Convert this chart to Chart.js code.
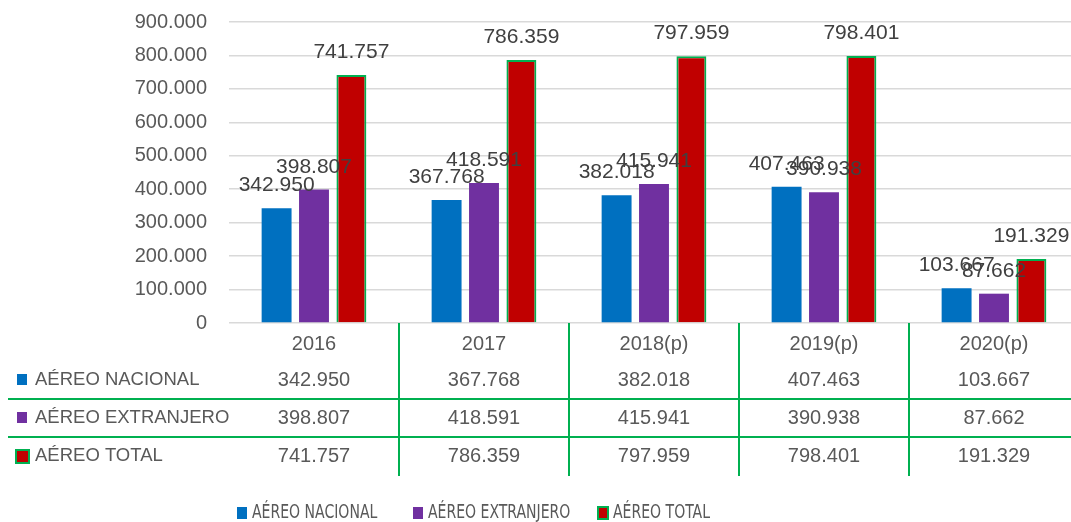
<!DOCTYPE html>
<html>
<head>
<meta charset="utf-8">
<script src="https://cdn.jsdelivr.net/npm/chart.js@4.4.1/dist/chart.umd.min.js"></script>
<style>
  html, body { margin: 0; padding: 0; background: #fff; overflow: hidden; }
  #wrap { width: 1080px; height: 522px; position: relative; }
</style>
</head>
<body>
<div id="wrap"><canvas id="chart"></canvas></div>
<script>
// data
const years = ['2016', '2017', '2018(p)', '2019(p)', '2020(p)'];
const nacional = [342950, 367768, 382018, 407463, 103667];
const extranjero = [398807, 418591, 415941, 390938, 87662];
const total = [741757, 786359, 797959, 798401, 191329];
const seriesNames = ['AÉREO NACIONAL', 'AÉREO EXTRANJERO', 'AÉREO TOTAL'];

const BLUE = '#0070C0', PURPLE = '#7030A0', RED = '#C00000', GREEN = '#00B050';
const TEXT = '#595959';
const FONT = '"Liberation Sans", Arial, sans-serif';
const NARROW = '"Liberation Sans Narrow", "DejaVu Sans Condensed", sans-serif';

// 900000 -> "900.000"
function fmt(v) {
    return String(v).replace(/\B(?=(\d{3})+(?!\d))/g, '.');
}

// value labels above each bar
const valueLabels = {
    id: 'valueLabels',
    afterDatasetsDraw(chart) {
        const ctx = chart.ctx;
        ctx.save();
        ctx.font = '21px ' + FONT;
        ctx.fillStyle = '#404040';
        ctx.textAlign = 'center';
        ctx.textBaseline = 'alphabetic';
        chart.data.datasets.forEach((ds, i) => {
            chart.getDatasetMeta(i).data.forEach((bar, j) => {
                ctx.fillText(fmt(ds.data[j]), bar.x, bar.y - 17);
            });
        });
        ctx.restore();
    }
};

function drawKey(ctx, ds, x, y, w, h) {
    ctx.fillStyle = ds.backgroundColor;
    ctx.fillRect(x, y, w, h);
    if (ds.borderWidth) {
        ctx.strokeStyle = ds.borderColor;
        ctx.lineWidth = ds.borderWidth;
        ctx.strokeRect(x + 1, y + 1, w - 2, h - 2);
    }
}

// data table under the axis + legend at the bottom
const dataTable = {
    id: 'dataTable',
    afterDraw(chart) {
        const ctx = chart.ctx;
        const xs = chart.scales.x;
        const area = chart.chartArea;
        const b = area.bottom;
        const step = xs.getPixelForValue(1) - xs.getPixelForValue(0);
        const rowY = [b + 57, b + 95, b + 133];
        ctx.save();

        // green grid of the table
        ctx.strokeStyle = GREEN;
        ctx.lineWidth = 2;
        ctx.beginPath();
        [b + 76, b + 114].forEach(y => {
            ctx.moveTo(8, y);
            ctx.lineTo(chart.width, y);
        });
        for (let i = 0; i < years.length - 1; i++) {
            const x = Math.round(xs.getPixelForValue(i) + step / 2);
            ctx.moveTo(x, b);
            ctx.lineTo(x, b + 153);
        }
        ctx.stroke();

        // row headers
        ctx.textBaseline = 'middle';
        ctx.textAlign = 'left';
        chart.data.datasets.forEach((ds, i) => {
            if (ds.borderWidth) drawKey(ctx, ds, 15, rowY[i] - 7, 15, 15);
            else drawKey(ctx, ds, 17, rowY[i] - 6, 10, 11);
            ctx.fillStyle = TEXT;
            ctx.font = '18.5px ' + FONT;
            ctx.fillText(ds.label, 35, rowY[i]);
        });

        // cell values
        ctx.textAlign = 'center';
        ctx.font = '20px ' + FONT;
        ctx.fillStyle = TEXT;
        chart.data.datasets.forEach((ds, i) => {
            ds.data.forEach((v, j) => {
                ctx.fillText(fmt(v), xs.getPixelForValue(j), rowY[i]);
            });
        });

        // legend (condensed text like the original)
        const ly = 513;
        const squeeze = 0.78;
        const legendX = [237, 413, 598];
        ctx.textAlign = 'left';
        ctx.font = '20px ' + NARROW;
        chart.data.datasets.forEach((ds, i) => {
            const lx = legendX[i];
            if (ds.borderWidth) drawKey(ctx, ds, lx - 1, ly - 7, 12, 14);
            else drawKey(ctx, ds, lx, ly - 6, 10, 12);
            ctx.fillStyle = TEXT;
            ctx.save();
            ctx.translate(lx + 15, ly);
            ctx.scale(squeeze, 1);
            ctx.fillText(ds.label, 0, 0);
            ctx.restore();
        });
        ctx.restore();
    }
};

new Chart(document.getElementById('chart'), {
    type: 'bar',
    data: {
        labels: years,
        datasets: [
            { label: seriesNames[0], data: nacional, backgroundColor: BLUE, borderWidth: 0 },
            { label: seriesNames[1], data: extranjero, backgroundColor: PURPLE, borderWidth: 0 },
            { label: seriesNames[2], data: total, backgroundColor: RED, borderColor: GREEN, borderWidth: 2 }
        ]
    },
    options: {
        responsive: true,
        maintainAspectRatio: false,
        animation: false,
        layout: { padding: { top: 0, right: 1, bottom: 159, left: 0 } },
        datasets: { bar: { categoryPercentage: 0.66, barPercentage: 0.8 } },
        plugins: {
            legend: { display: false },
            tooltip: { enabled: false }
        },
        scales: {
            x: {
                grid: { display: false },
                border: { display: false },
                ticks: { color: TEXT, font: { family: FONT, size: 20 }, padding: 1 },
                afterFit(scale) { scale.height = 40; }
            },
            y: {
                min: 0,
                max: 900000,
                grid: {
                    color: '#D9D9D9',
                    lineWidth: 1.5,
                    drawTicks: true,
                    tickLength: 12,
                    tickColor: 'rgba(0,0,0,0)'
                },
                border: { display: false },
                ticks: {
                    stepSize: 100000,
                    color: TEXT,
                    font: { family: FONT, size: 20 },
                    padding: 10,
                    callback: v => fmt(v)
                },
                afterFit(scale) { scale.width = 229; }
            }
        }
    },
    plugins: [valueLabels, dataTable]
});
</script>
</body>
</html>
